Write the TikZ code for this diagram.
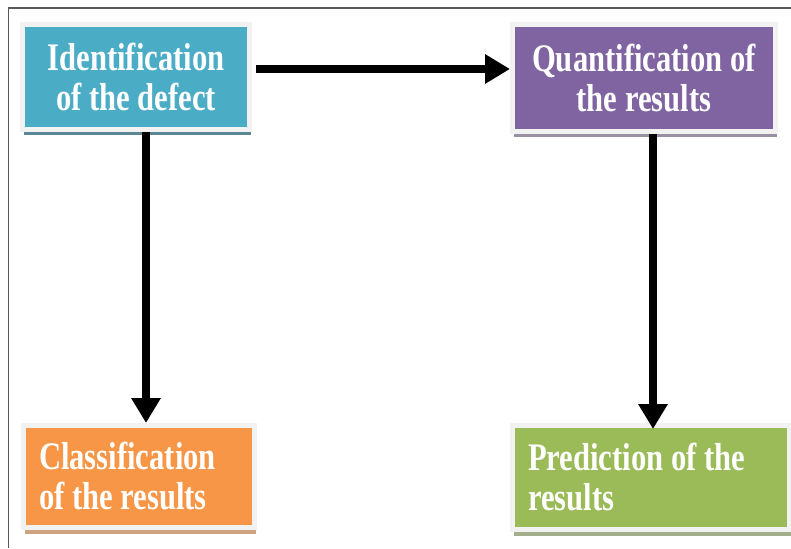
\documentclass[tikz,border=0pt]{standalone}
\usepackage{fontspec}
\setmainfont[FakeStretch=0.785]{Liberation Serif}
\usepackage{tikz}
\usetikzlibrary{arrows.meta,shadows}
\definecolor{boxaqua}{RGB}{75,172,198}
\definecolor{boxviolet}{RGB}{128,100,162}
\definecolor{boxorange}{RGB}{247,150,70}
\definecolor{boxgreen}{RGB}{155,187,89}
\definecolor{boxrim}{RGB}{242,242,242}

\begin{document}
\begin{tikzpicture}[x=1pt, y=-1pt, thick]
      \tikzset{flow box/.style={draw=boxrim, line width=5pt, text=white,
        font=\bfseries\fontsize{39}{40}\selectfont}}
      \tikzset{box mid/.style={flow box, align=center, inner sep=0pt}}
      \tikzset{box side/.style={flow box, align=flush left, inner xsep=15.5pt}}
      \tikzset{box shade/.style={drop shadow={shadow xshift=1pt,
        shadow yshift=-6pt, opacity=1, fill=#1}}}
      \tikzset{flow arrow/.style={line width=8pt,
        -{Triangle[length=25pt, width=28pt]}}}

      \useasboundingbox (0,0) rectangle (791,548);
      \draw[gray!70!black, line width=1.3pt] (791,8) -- (8.5,8) -- (8.5,548);

      \draw
      (136,77) node [box mid, fill=boxaqua, box shade=boxaqua!50!gray!90!black,
        minimum width=227pt, minimum height=105pt] (ident1)
        {Identification\\of the defect}
      (644,78) node [box mid, fill=boxviolet, box shade=boxviolet!35!gray!80,
        minimum width=263pt, minimum height=107pt] (quant1)
        {Quantification of\\the results}
      (139,476.5) node [box side, fill=boxorange, box shade=boxorange!55!gray!80,
        text width=200pt, minimum height=102pt] (class1)
        {Classification\\of the results}
      (651,477.5) node [box side, fill=boxgreen, box shade=boxgreen!45!gray!80,
        text width=246pt, minimum height=104pt] (pred1)
        {Prediction of the\\results};

      \draw[flow arrow, shorten <=4pt]
        ([yshift=8pt]ident1.east) to ([yshift=8pt]ident1.east -| quant1.west);
      \draw[flow arrow]
        ([xshift=10pt]ident1.south) to ([xshift=10pt]ident1.south |- class1.north);
      \draw[flow arrow, shorten >=-6pt]
        ([xshift=9pt]quant1.south) to ([xshift=9pt]quant1.south |- pred1.north);
    \end{tikzpicture}
\end{document}
